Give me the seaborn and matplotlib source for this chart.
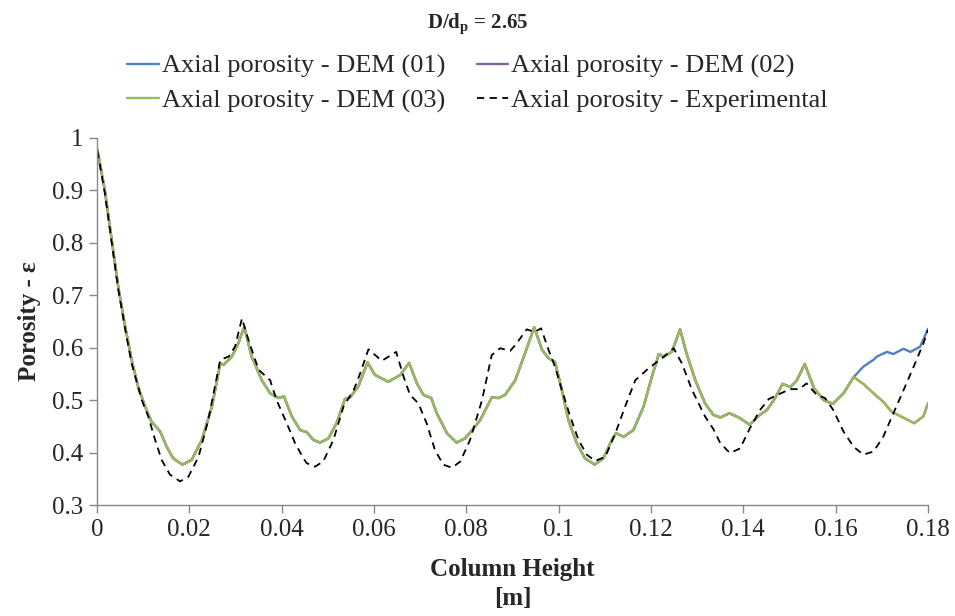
import matplotlib
matplotlib.use("Agg")
import matplotlib.pyplot as plt
import seaborn as sns
import pandas as pd

# ---------------- data ----------------
dem_x = [0.0001, 0.0017, 0.0032, 0.0046, 0.0061, 0.0075, 0.0089, 0.0104, 0.0118, 0.0137,
         0.0151, 0.0165, 0.0185, 0.0205, 0.0227, 0.0249, 0.0267, 0.0274, 0.0292, 0.0306,
         0.0319, 0.0335, 0.0357, 0.0375, 0.0393, 0.0405, 0.0422, 0.0440, 0.0454, 0.0469,
         0.0483, 0.0501, 0.0519, 0.0537, 0.0548, 0.0566, 0.0586, 0.0602, 0.0631, 0.0657,
         0.0676, 0.0693, 0.0707, 0.0724, 0.0736, 0.0758, 0.0779, 0.0797, 0.0810, 0.0830,
         0.0855, 0.0870, 0.0884, 0.0906, 0.0927, 0.0947, 0.0964, 0.0978, 0.0992, 0.1007,
         0.1021, 0.1039, 0.1057, 0.1078, 0.1097, 0.1115, 0.1124, 0.1141, 0.1162, 0.1184,
         0.1202, 0.1217, 0.1227, 0.1245, 0.1263, 0.1277, 0.1296, 0.1317, 0.1335, 0.1350,
         0.1370, 0.1390, 0.1414, 0.1436, 0.1451, 0.1469, 0.1485, 0.1502, 0.1516, 0.1533,
         0.1553, 0.1574, 0.1594, 0.1617, 0.1639]
dem_common_y = [0.977, 0.900, 0.805, 0.716, 0.640, 0.577, 0.526, 0.488, 0.459, 0.440,
                0.411, 0.389, 0.377, 0.386, 0.424, 0.488, 0.570, 0.567, 0.583, 0.608,
                0.640, 0.583, 0.538, 0.513, 0.504, 0.507, 0.469, 0.443, 0.439, 0.424,
                0.419, 0.427, 0.456, 0.502, 0.505, 0.526, 0.572, 0.548, 0.535, 0.548,
                0.571, 0.532, 0.510, 0.504, 0.475, 0.437, 0.419, 0.427, 0.440, 0.462,
                0.505, 0.504, 0.510, 0.538, 0.589, 0.639, 0.596, 0.580, 0.573, 0.519,
                0.462, 0.418, 0.389, 0.377, 0.389, 0.424, 0.437, 0.430, 0.443, 0.488,
                0.545, 0.588, 0.583, 0.592, 0.635, 0.589, 0.538, 0.494, 0.472, 0.467,
                0.475, 0.467, 0.453, 0.472, 0.481, 0.504, 0.531, 0.525, 0.538, 0.569,
                0.523, 0.500, 0.493, 0.513, 0.544]
dem01_tail_x = [0.1660, 0.1682, 0.1689, 0.1711, 0.1725, 0.1747, 0.1762, 0.1783, 0.1800]
dem01_tail_y = [0.564, 0.577, 0.583, 0.592, 0.588, 0.598, 0.592, 0.602, 0.636]
dem02_tail_x = [0.1660, 0.1682, 0.1703, 0.1721, 0.1739, 0.1770, 0.1790, 0.1800]
dem02_tail_y = [0.531, 0.513, 0.497, 0.478, 0.470, 0.456, 0.469, 0.494]
dem03_tail_x = [0.1660, 0.1682, 0.1703, 0.1721, 0.1739, 0.1770, 0.1790, 0.1800]
dem03_tail_y = [0.531, 0.513, 0.497, 0.478, 0.470, 0.456, 0.469, 0.494]

exp_x = [0.0001, 0.0017, 0.0032, 0.0046, 0.0061, 0.0075, 0.0097, 0.0111, 0.0126, 0.0140,
         0.0158, 0.0180, 0.0198, 0.0220, 0.0241, 0.0267, 0.0285, 0.0299, 0.0314, 0.0328,
         0.0350, 0.0375, 0.0389, 0.0411, 0.0429, 0.0447, 0.0454, 0.0472, 0.0490, 0.0512,
         0.0534, 0.0556, 0.0570, 0.0588, 0.0617, 0.0648, 0.0664, 0.0678, 0.0696, 0.0714,
         0.0732, 0.0750, 0.0769, 0.0787, 0.0808, 0.0834, 0.0855, 0.0873, 0.0895, 0.0906,
         0.0931, 0.0948, 0.0962, 0.0978, 0.0992, 0.1007, 0.1025, 0.1043, 0.1061, 0.1079,
         0.1101, 0.1123, 0.1144, 0.1166, 0.1195, 0.1224, 0.1249, 0.1267, 0.1289, 0.1317,
         0.1335, 0.1350, 0.1371, 0.1393, 0.1414, 0.1436, 0.1455, 0.1474, 0.1501, 0.1521,
         0.1537, 0.1559, 0.1577, 0.1595, 0.1617, 0.1639, 0.1660, 0.1682, 0.1703, 0.1725,
         0.1747, 0.1769, 0.1790, 0.1800]
exp_y = [0.975, 0.895, 0.800, 0.712, 0.636, 0.570, 0.500, 0.469, 0.424, 0.386,
         0.358, 0.345, 0.354, 0.392, 0.462, 0.577, 0.583, 0.602, 0.656, 0.615,
         0.558, 0.538, 0.500, 0.456, 0.418, 0.389, 0.380, 0.373, 0.383, 0.424,
         0.488, 0.519, 0.551, 0.597, 0.575, 0.592, 0.545, 0.510, 0.494, 0.456,
         0.405, 0.377, 0.371, 0.383, 0.424, 0.500, 0.586, 0.599, 0.594, 0.605,
         0.635, 0.630, 0.637, 0.596, 0.564, 0.519, 0.469, 0.424, 0.396, 0.384,
         0.392, 0.437, 0.488, 0.538, 0.561, 0.580, 0.599, 0.570, 0.519, 0.469,
         0.445, 0.418, 0.399, 0.408, 0.446, 0.481, 0.502, 0.510, 0.521, 0.521,
         0.532, 0.510, 0.504, 0.481, 0.440, 0.411, 0.396, 0.402, 0.430, 0.475,
         0.519, 0.564, 0.608, 0.634]

labels = ["Axial porosity - DEM (01)", "Axial porosity - DEM (02)",
          "Axial porosity - DEM (03)", "Axial porosity - Experimental"]
colors = ["#4F81BD", "#8064A2", "#9BBB59", "#000000"]
x_ticks = [0, 0.02, 0.04, 0.06, 0.08, 0.1, 0.12, 0.14, 0.16, 0.18]
x_tick_labels = ["0", "0.02", "0.04", "0.06", "0.08", "0.1", "0.12", "0.14", "0.16", "0.18"]
y_ticks = [0.3, 0.4, 0.5, 0.6, 0.7, 0.8, 0.9, 1.0]
y_tick_labels = ["0.3", "0.4", "0.5", "0.6", "0.7", "0.8", "0.9", "1"]

# ---------------- build frames ----------------
frames = []
for lab, tx, ty in zip(labels[:3], [dem01_tail_x, dem02_tail_x, dem03_tail_x],
                       [dem01_tail_y, dem02_tail_y, dem03_tail_y]):
    frames.append(pd.DataFrame({"x": dem_x + tx, "y": dem_common_y + ty, "series": lab}))
frames.append(pd.DataFrame({"x": exp_x, "y": exp_y, "series": labels[3]}))

# ---------------- style ----------------
sns.set_theme(style="white")
plt.rcParams["font.family"] = ["Liberation Serif", "DejaVu Serif"]
plt.rcParams["mathtext.fontset"] = "custom"
plt.rcParams["mathtext.rm"] = "Liberation Serif"
plt.rcParams["mathtext.bf"] = "Liberation Serif:bold"
plt.rcParams["mathtext.it"] = "Liberation Serif:italic"

fig = plt.figure(figsize=(9.55, 6.16), dpi=100)
ax = fig.add_axes([97 / 955, 1 - 505 / 616, 831 / 955, 367 / 616])

handles = []
for df, lab, col in zip(frames, labels, colors):
    if lab.endswith("Experimental"):
        sns.lineplot(data=df, x="x", y="y", ax=ax, color=col, lw=1.3, sort=False,
                     estimator=None, legend=False)
        ln = ax.lines[-1]
        ln.set_linestyle((0, (4, 3)))
    else:
        sns.lineplot(data=df, x="x", y="y", ax=ax, color=col, lw=1.7, sort=False,
                     estimator=None, legend=False)
        ln = ax.lines[-1]
    ln.set_solid_joinstyle("round")
    ln.set_label(lab)
    handles.append(ln)

ax.set_xlim(0, 0.18)
ax.set_ylim(0.3, 1.0)
ax.set_xticks(x_ticks)
ax.set_xticklabels(x_tick_labels)
ax.set_yticks(y_ticks)
ax.set_yticklabels(y_tick_labels)
ax.tick_params(axis="both", labelsize=18, length=6, width=1, color="#878787",
               direction="out", bottom=True, left=True, pad=4)
for s in ["top", "right"]:
    ax.spines[s].set_visible(False)
for s in ["left", "bottom"]:
    ax.spines[s].set_color("#878787")
    ax.spines[s].set_linewidth(1.0)
ax.grid(False)

ax.set_xlabel("Column Height\n[m]", fontsize=18, fontweight="bold", labelpad=12,
              linespacing=1.35)
ax.set_ylabel("Porosity - ε", fontsize=18, fontweight="bold", labelpad=8)

fig.text(0.5, 1 - 24 / 616, r"D/d$_{\mathbf{p}}$ = 2.65", ha="center", va="center",
         fontsize=15, fontweight="bold")

order = [0, 2, 1, 3]
fig.legend([handles[i] for i in order], [labels[i] for i in order], ncol=2,
           loc="upper center", bbox_to_anchor=(0.5, 1 - 44 / 616), frameon=False,
           fontsize=19, handlelength=1.2, handletextpad=0.1, columnspacing=1.2,
           labelspacing=0.4, borderaxespad=0)

fig.savefig("out.png", dpi=100)
